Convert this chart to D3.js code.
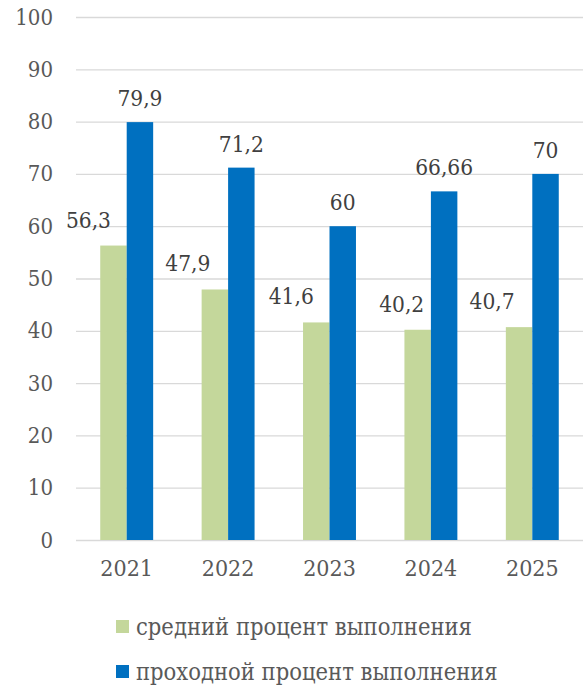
<!DOCTYPE html>
<html>
<head>
<meta charset="utf-8">
<script src="https://cdn.jsdelivr.net/npm/d3@7"></script>
<style>
  body { margin: 0; background: #fff; }
</style>
</head>
<body>
<div id="chart"></div>
<script>
const years = ["2021", "2022", "2023", "2024", "2025"];
const avgValues = [56.3, 47.9, 41.6, 40.2, 40.7];
const passValues = [79.9, 71.2, 60, 66.66, 70];
const avgLabels = ["56,3", "47,9", "41,6", "40,2", "40,7"];
const passLabels = ["79,9", "71,2", "60", "66,66", "70"];
const seriesNames = ["средний процент выполнения", "проходной процент выполнения"];
const yTicks = [0, 10, 20, 30, 40, 50, 60, 70, 80, 90, 100];

// label nudges (Excel labels were dragged left of the green bars)
const avgLabelDx = [-25, -27, -25, -16, -27];

const colors = ["#c4d79b", "#0070c0"];
const serif = "'DejaVu Serif Condensed', 'DejaVu Serif', serif";

const W = 586, H = 691;
const margin = { top: 17, right: 3, left: 76 };
const width = W - margin.left - margin.right;
const plotH = 523;

const svg = d3.select("#chart").append("svg")
    .attr("width", W)
    .attr("height", H)
    .attr("font-family", serif)
    .style("font-stretch", "condensed");

const g = svg.append("g")
    .attr("transform", `translate(${margin.left},${margin.top})`);

// Scales
const x = d3.scaleBand()
    .domain(years)
    .range([0, width])
    .paddingInner(0.478)
    .paddingOuter(0.239);

const xSub = d3.scaleBand()
    .domain([0, 1])
    .range([0, x.bandwidth()]);

const y = d3.scaleLinear()
    .domain([0, 100])
    .range([plotH, 0]);

// Gridlines
g.selectAll(".grid")
    .data(yTicks)
    .enter()
    .append("line")
    .attr("x1", 0)
    .attr("x2", width)
    .attr("y1", d => y(d) + 0.5)
    .attr("y2", d => y(d) + 0.5)
    .attr("stroke", "#d9d9d9")
    .attr("stroke-width", 1.3);

// Y axis labels
const yAxis = g.append("g")
    .call(d3.axisLeft(y).tickValues(yTicks).tickSize(0).tickPadding(23))
    .attr("font-family", serif)
    .attr("font-size", 22);
yAxis.select(".domain").remove();
yAxis.selectAll("text").attr("fill", "#595959");

// X axis labels
const xAxis = g.append("g")
    .attr("transform", `translate(0,${plotH})`)
    .call(d3.axisBottom(x).tickSize(0).tickPadding(20))
    .attr("font-family", serif)
    .attr("font-size", 23);
xAxis.select(".domain").remove();
xAxis.selectAll("text").attr("fill", "#595959");

// Bars
const groups = g.selectAll(".year")
    .data(years)
    .enter()
    .append("g")
    .attr("transform", d => `translate(${x(d)},0)`);

groups.append("rect")
    .attr("x", xSub(0))
    .attr("width", xSub.bandwidth())
    .attr("y", (d, i) => y(avgValues[i]))
    .attr("height", (d, i) => plotH - y(avgValues[i]))
    .attr("fill", colors[0]);

groups.append("rect")
    .attr("x", xSub(1))
    .attr("width", xSub.bandwidth())
    .attr("y", (d, i) => y(passValues[i]))
    .attr("height", (d, i) => plotH - y(passValues[i]))
    .attr("fill", colors[1]);

// Data labels
groups.append("text")
    .attr("x", (d, i) => xSub(0) + xSub.bandwidth() / 2 + avgLabelDx[i])
    .attr("y", (d, i) => y(avgValues[i]) - 18)
    .attr("text-anchor", "middle")
    .attr("fill", "#404040")
    .attr("font-size", 22.5)
    .text((d, i) => avgLabels[i]);

groups.append("text")
    .attr("x", xSub(1) + xSub.bandwidth() / 2)
    .attr("y", (d, i) => y(passValues[i]) - 16)
    .attr("text-anchor", "middle")
    .attr("fill", "#404040")
    .attr("font-size", 22.5)
    .text((d, i) => passLabels[i]);

// Legend
const legend = svg.selectAll(".legend")
    .data(seriesNames)
    .enter()
    .append("g")
    .attr("transform", (d, i) => `translate(116,${620 + i * 45})`);

legend.append("rect")
    .attr("width", 13)
    .attr("height", 13)
    .attr("fill", (d, i) => colors[i]);

legend.append("text")
    .attr("x", 20)
    .attr("y", 15)
    .attr("fill", "#595959")
    .attr("font-size", 23.5)
    .text(d => d);
</script>
</body>
</html>
